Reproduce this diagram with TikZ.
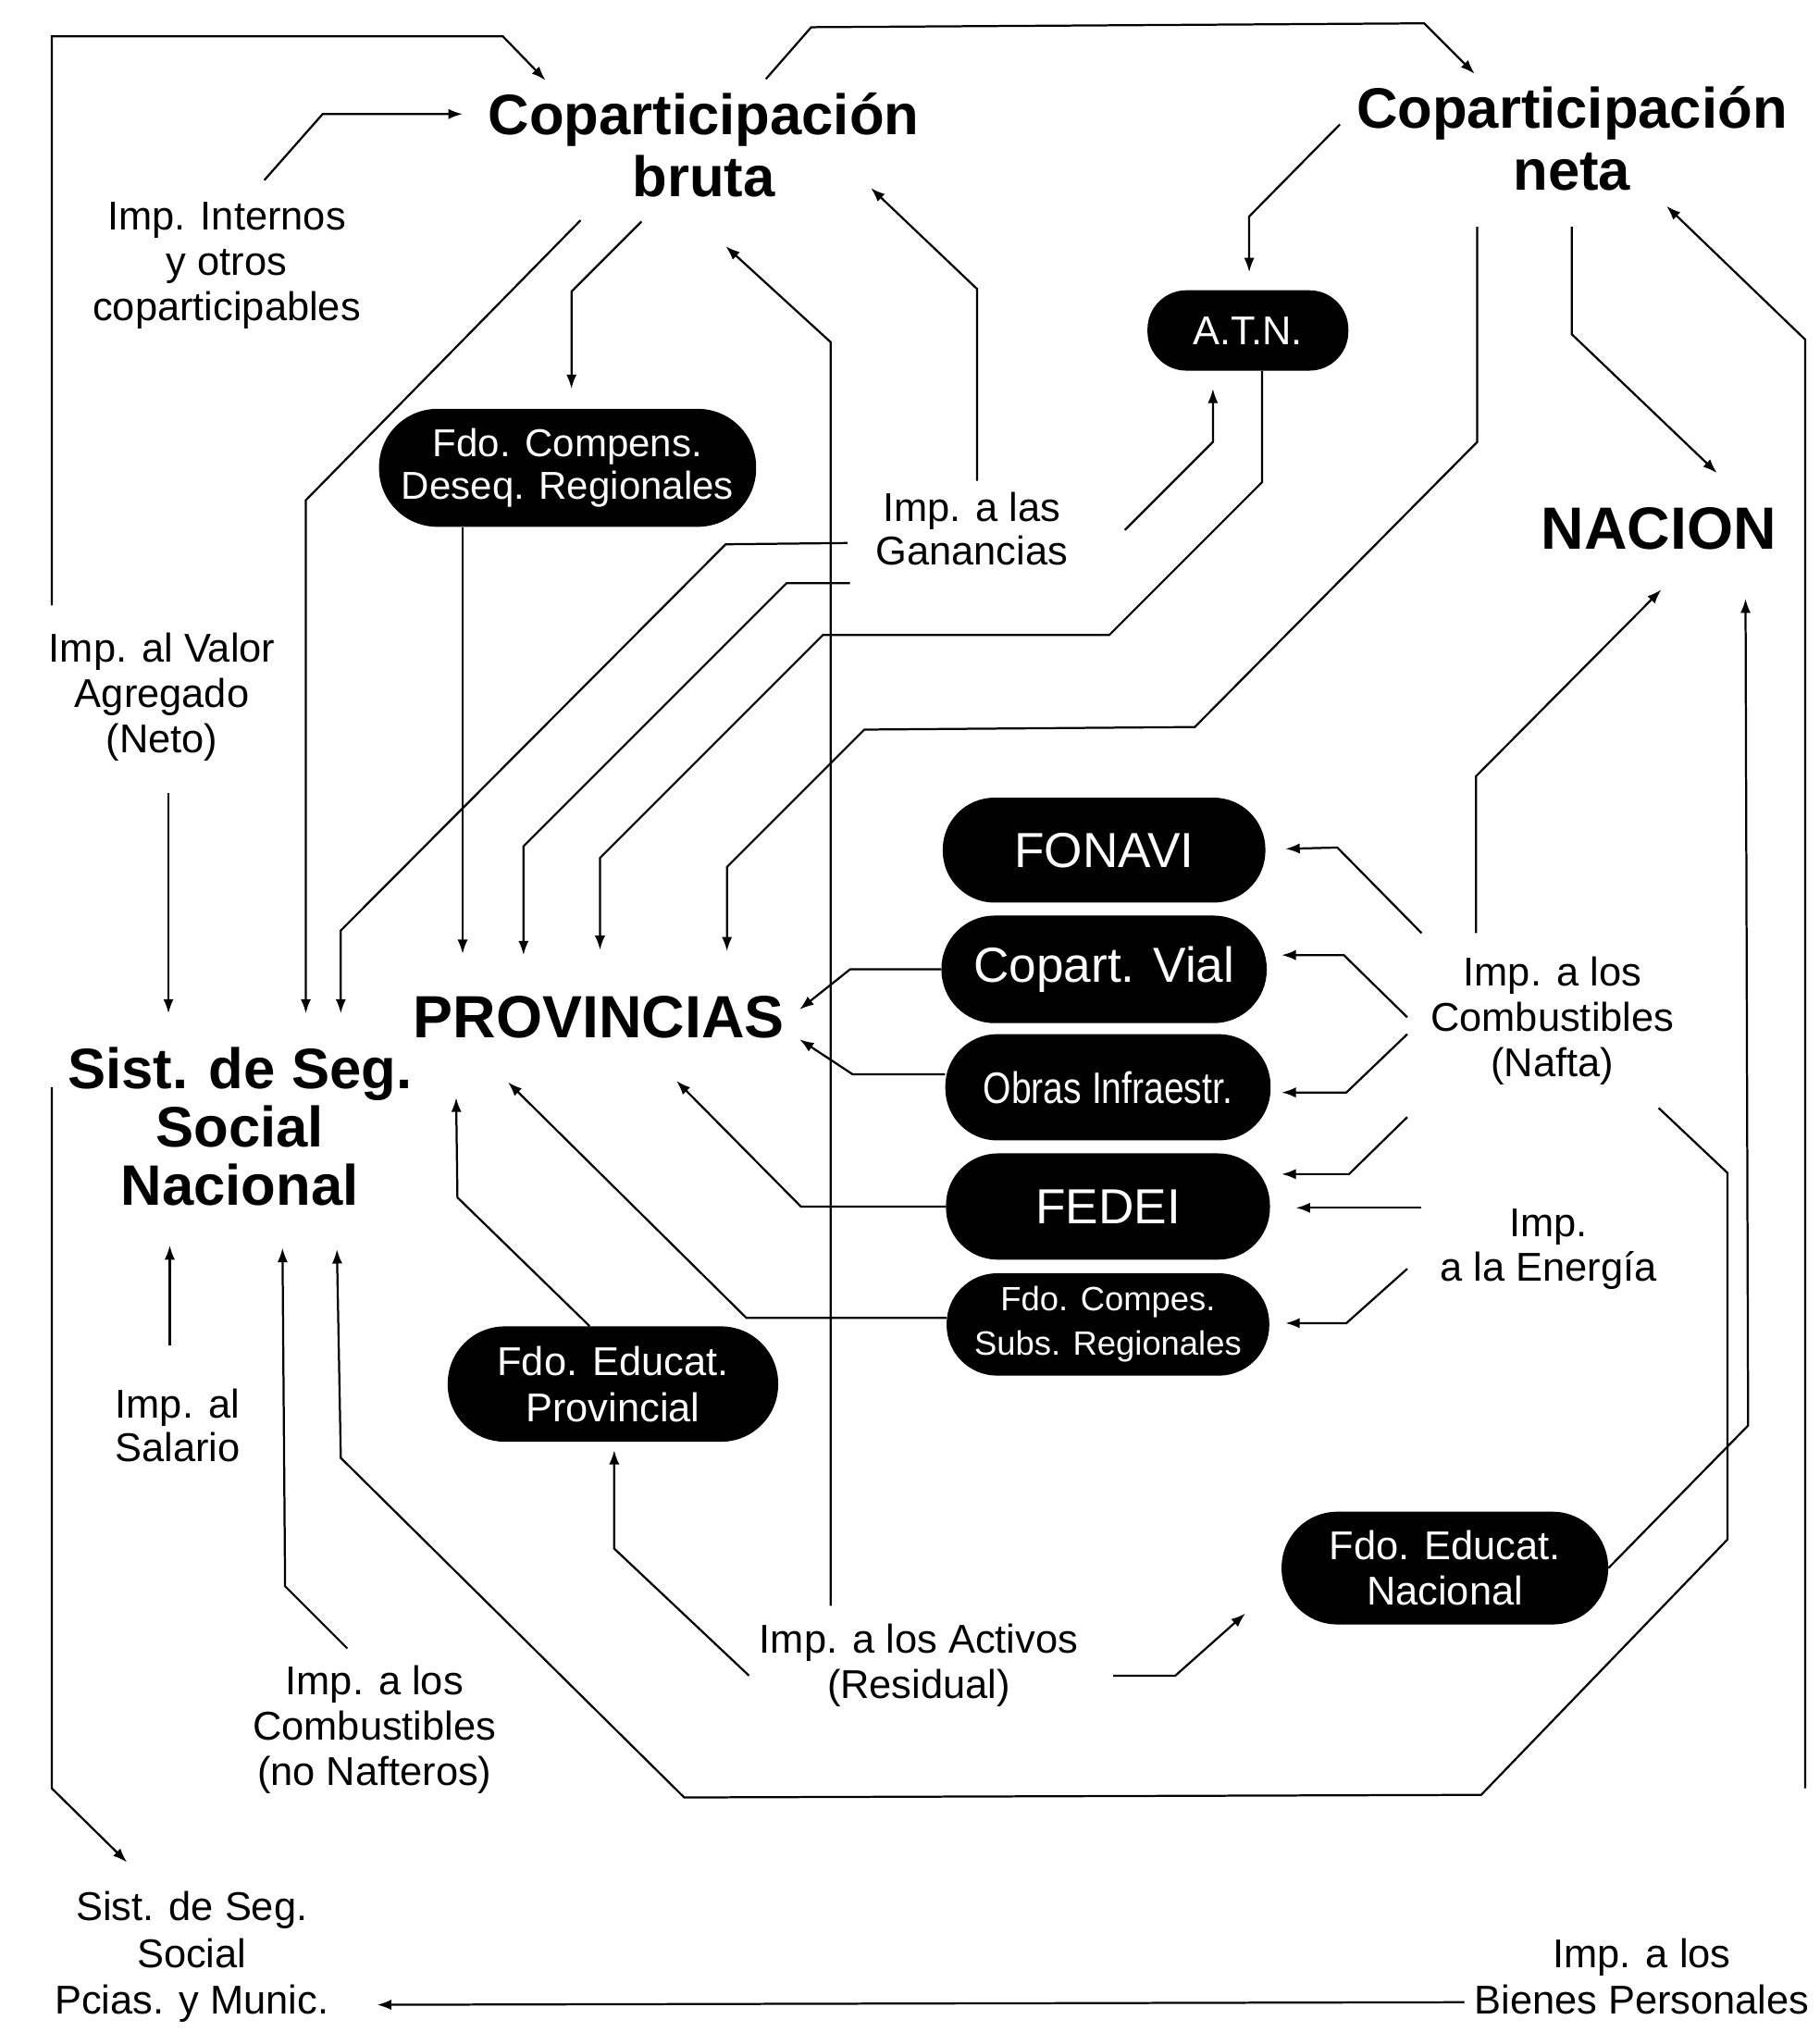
\documentclass[tikz,border=0pt]{standalone}
\usepackage{fontspec}
\setmainfont{Liberation Sans}
\usetikzlibrary{arrows.meta}
\begin{document}
\begin{tikzpicture}[x=1pt,y=-1pt,
  conn/.style={line width=1.6pt, line join=miter},
  arr/.style={conn,-{Latex[length=11pt,width=8pt]}},
  lbl/.style={font=\fontsize{31}{35}\selectfont, align=center, inner sep=0pt},
  big/.style={font=\fontsize{44}{48}\selectfont\bfseries, align=center, inner sep=0pt},
  fund/.style={fill=black, text=white, align=center, inner sep=0pt}]
\useasboundingbox[fill=white] (0,0) rectangle (1404,1568);

% ---- text nodes
\node[big] (cb) at (543,112) {Coparticipación\\bruta};
\node[big] (cn) at (1213,107) {Coparticipación\\neta};
\node[big, font=\fontsize{46}{48}\selectfont\bfseries] (nacion) at (1280,408) {NACION};
\node[big, font=\fontsize{46}{48}\selectfont\bfseries] (prov) at (462,785) {PROVINCIAS};
\node[big, font=\fontsize{44}{45}\selectfont\bfseries] (ssn) at (185,869) {Sist. de Seg.\\Social\\Nacional};
\node[lbl] (internos) at (175,205) {Imp. Internos\\y otros\\coparticipables};
\node[lbl, font=\fontsize{31}{34}\selectfont] (ganan) at (750,408) {Imp. a las\\Ganancias};
\node[lbl] (iva) at (125,538) {Imp. al Valor\\Agregado\\(Neto)};
\node[lbl] (nafta) at (1198,788) {Imp. a los\\Combustibles\\(Nafta)};
\node[lbl, font=\fontsize{31}{34}\selectfont] (energia) at (1195,964) {Imp.\\a la Energía};
\node[lbl, font=\fontsize{31}{33}\selectfont] (salario) at (137,1100) {Imp. al\\Salario};
\node[lbl] (nonafta) at (289,1335) {Imp. a los\\Combustibles\\(no Nafteros)};
\node[lbl] (activos) at (709,1285) {Imp. a los Activos\\(Residual)};
\node[lbl, font=\fontsize{31}{36}\selectfont] (sspm) at (148,1510) {Sist. de Seg.\\Social\\Pcias. y Munic.};
\node[lbl, font=\fontsize{31}{36}\selectfont] (bienes) at (1267,1525) {Imp. a los\\Bienes Personales};

% ---- black funds
\node[fund, minimum width=291pt, minimum height=91pt, rounded corners=45pt, font=\fontsize{30}{33}\selectfont] (fcdr) at (438,361) {Fdo. Compens.\\Deseq. Regionales};
\node[fund, minimum width=155pt, minimum height=62pt, rounded corners=30pt, font=\fontsize{31}{35}\selectfont] (atn) at (963,255) {A.T.N.};
\node[fund, minimum width=249pt, minimum height=81pt, rounded corners=40pt, font=\fontsize{38}{40}\selectfont] (fonavi) at (852,656) {FONAVI};
\node[fund, minimum width=251pt, minimum height=83pt, rounded corners=41pt, font=\fontsize{38}{40}\selectfont] (vial) at (852,748) {Copart. Vial};
\node[fund, minimum width=251pt, minimum height=82pt, rounded corners=40pt, font=\fontsize{34}{36}\selectfont\addfontfeature{FakeStretch=0.82}] (obras) at (855,839) {Obras Infraestr.};
\node[fund, minimum width=250pt, minimum height=82pt, rounded corners=40pt, font=\fontsize{38}{40}\selectfont] (fedei) at (855,931) {FEDEI};
\node[fund, minimum width=249pt, minimum height=79pt, rounded corners=39pt, font=\fontsize{26}{34}\selectfont] (fcsr) at (855,1022) {Fdo. Compes.\\Subs. Regionales};
\node[fund, minimum width=255pt, minimum height=89pt, rounded corners=44pt, font=\fontsize{31}{36}\selectfont] (fep) at (473,1068) {Fdo. Educat.\\Provincial};
\node[fund, minimum width=252pt, minimum height=87pt, rounded corners=43pt, font=\fontsize{31}{35}\selectfont] (fen) at (1115,1210) {Fdo. Educat.\\Nacional};

% ---- connectors into Coparticipacion bruta
\draw[arr] (40,467) -- (40,28) -- (388,28) -- (421,62);            % IVA -> CB
\draw[arr] (204,139) -- (249,88) -- (357,88);                      % Internos -> CB
\draw[arr] (754,371) -- (754,223) -- (672,145);                    % Ganancias -> CB
\draw[arr] (641,1239) -- (641,264) -- (560,190);                   % Activos -> CB
% ---- out of Coparticipacion bruta
\draw[arr] (448,170) -- (236,386) -- (236,782);                    % CB -> SSN
\draw[arr] (495,171) -- (441,225) -- (441,300);                    % CB -> FCDR
\draw[arr] (591,61) -- (626,21) -- (1099,18) -- (1138,57);         % CB -> CN
% ---- Coparticipacion neta
\draw[arr] (1034,96) -- (964,167) -- (964,210);                    % CN -> ATN
\draw[arr] (1213,175) -- (1213,258) -- (1325,365);                 % CN -> Nacion
\draw[arr] (1140,175) -- (1140,341) -- (922,561) -- (667,563) -- (561,669) -- (561,734); % CN -> Prov
\draw[arr] (1393,1380) -- (1393,262) -- (1286,159);                % Bienes -> CN
\draw[arr] (1130,1545) -- (291,1547);                              % Bienes -> SSPM
% ---- Ganancias
\draw[arr] (654,419) -- (560,420) -- (263,718) -- (263,782);       % Ganancias -> SSN
\draw[arr] (656,450) -- (607,450) -- (404,653) -- (404,737);       % Ganancias -> Prov
\draw[arr] (868,409) -- (936,341) -- (936,300);                    % Ganancias -> ATN
% ---- ATN, FCDR
\draw[arr] (atn.south -| 974,0) -- (974,372) -- (856,490) -- (635,490) -- (463,662) -- (463,733);
\draw[arr] (fcdr.south -| 357,0) -- (357,736);
% ---- SSN
\draw[arr] (130,612) -- (130,782);                                 % IVA -> SSN
\draw[arr] (131,1038) -- (131,961);                                % Salario -> SSN
\draw[arr] (268,1272) -- (220,1224) -- (218,963);                  % no Nafteros -> SSN
\draw[arr] (1280,855) -- (1333,905) -- (1333,1188) -- (1143,1385) -- (528,1387) -- (263,1125) -- (260,964); % Nafta -> SSN
\draw[arr] (40,839) -- (40,1380) -- (98,1437);                     % SSN -> SSPM
% ---- Nacion
\draw[arr] (fen.east) -- (1349,1100) -- (1347,462);                % FEN -> Nacion
\draw[arr] (1139,720) -- (1139,599) -- (1282,455);                 % Nafta -> Nacion
% ---- Nafta and Energia to funds
\draw[arr] (1097,720) -- (1032,654) -- (992,655);
\draw[arr] (1086,785) -- (1037,737) -- (989,737);
\draw[arr] (1086,798) -- (1039,843) -- (989,843);
\draw[arr] (1086,862) -- (1041,906) -- (989,906);
\draw[arr] (1097,932) -- (1000,932);
\draw[arr] (1086,979) -- (1039,1021) -- (992,1021);
% ---- funds to Provincias
\draw[arr] (vial.west |- 0,748) -- (656,748) -- (617,779);
\draw[arr] (obras.west |- 0,829) -- (658,829) -- (617,802);
\draw[arr] (fedei.west |- 0,931) -- (618,931) -- (522,834);
\draw[arr] (fcsr.west |- 0,1017) -- (576,1017) -- (392,835);
\draw[arr] (fep.north -| 455,0) -- (353,924) -- (352,847);
% ---- Activos
\draw[arr] (578,1293) -- (474,1195) -- (474,1119);                 % Activos -> FEP
\draw[arr] (859,1293) -- (907,1293) -- (961,1245);                 % Activos -> FEN
\end{tikzpicture}
\end{document}
